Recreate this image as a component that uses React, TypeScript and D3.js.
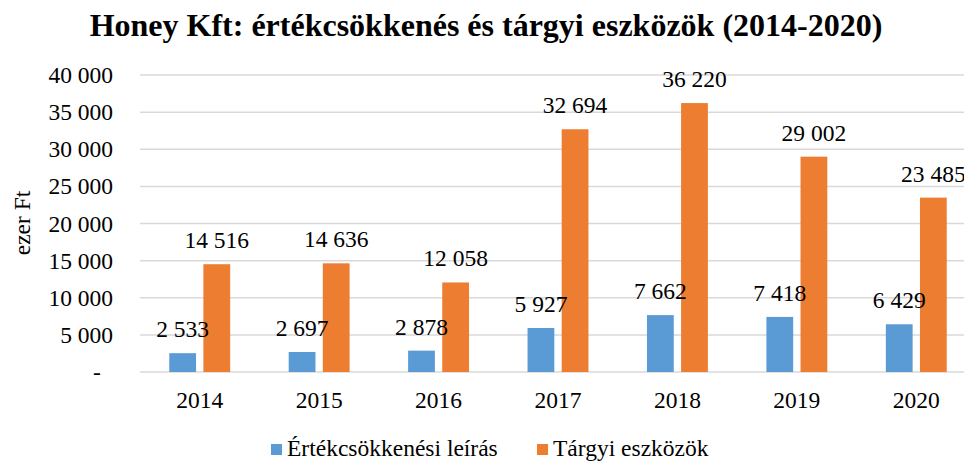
import React from "react";
import * as d3 from "d3";

const years = ["2014", "2015", "2016", "2017", "2018", "2019", "2020"];
const depreciation = [2533, 2697, 2878, 5927, 7662, 7418, 6429];
const assets = [14516, 14636, 12058, 32694, 36220, 29002, 23485];
const yTicks = [0, 5000, 10000, 15000, 20000, 25000, 30000, 35000, 40000];
const seriesNames = ["Értékcsökkenési leírás", "Tárgyi eszközök"];
const seriesColors = ["#5b9bd5", "#ed7d31"];
const title = "Honey Kft: értékcsökkenés és tárgyi eszközök (2014-2020)";
const yTitle = "ezer Ft";

const FONT = "'Liberation Serif', 'Times New Roman', serif";
const W = 964;
const H = 461;
const FS = 23.5;

const fmt = (v: number) => d3.format(",")(v).replace(/,/g, "\u00a0");

export default function App() {
  const y = d3.scaleLinear().domain([0, 40000]).range([372, 75]);
  const x0 = d3.scaleBand<string>().domain(years).range([140, 976]).paddingInner(0.49).paddingOuter(0.245);
  const x1 = d3.scaleBand<number>().domain([0, 1]).range([0, x0.bandwidth()]).paddingInner(0.215);
  const series = [depreciation, assets];

  return (
    <svg width={W} height={H} style={{ position: "absolute", left: 0, top: 0, background: "#fff" }} fontFamily={FONT}>
      <rect x={0} y={0} width={W} height={H} fill="#fff" />
      <text x={486} y={36} textAnchor="middle" fontSize={32} fontWeight="bold" fill="#000">{title}</text>
      {yTicks.map((t) => (
        <g key={t}>
          <line x1={140} x2={976} y1={y(t)} y2={y(t)} stroke="#d9d9d9" strokeWidth={1.5} />
          {t === 0 ? (
            <text x={97} y={y(t) + 7.5} textAnchor="middle" fontSize={FS} fill="#000">-</text>
          ) : (
            <text x={113} y={y(t) + 8} textAnchor="end" fontSize={FS} fill="#000">{fmt(t)}</text>
          )}
        </g>
      ))}
      <text transform={`translate(30,223) rotate(-90)`} textAnchor="middle" fontSize={FS} fill="#000">{yTitle}</text>
      {years.map((yr, i) => (
        <g key={yr}>
          {series.map((s, k) => {
            const bx = (x0(yr) as number) + (x1(k) as number);
            const bw = x1.bandwidth();
            return (
              <rect key={k} x={bx} y={y(s[i])} width={bw} height={y(0) - y(s[i])} fill={seriesColors[k]} />
            );
          })}
          {series.map((s, k) => {
            const bx = (x0(yr) as number) + (x1(k) as number) + x1.bandwidth() / 2;
            return (
              <text key={"l" + k} x={bx} y={y(s[i]) - 16} textAnchor="middle" fontSize={FS} fill="#000">{fmt(s[i])}</text>
            );
          })}
          <text x={(x0(yr) as number) + x0.bandwidth() / 2} y={408} textAnchor="middle" fontSize={FS} fill="#000">{yr}</text>
        </g>
      ))}
      {seriesNames.map((n, k) => {
        const lx = [271, 537][k];
        return (
          <g key={n}>
            <rect x={lx} y={444} width={11} height={11} fill={seriesColors[k]} />
            <text x={lx + 16} y={456} fontSize={FS} fill="#000">{n}</text>
          </g>
        );
      })}
    </svg>
  );
}
